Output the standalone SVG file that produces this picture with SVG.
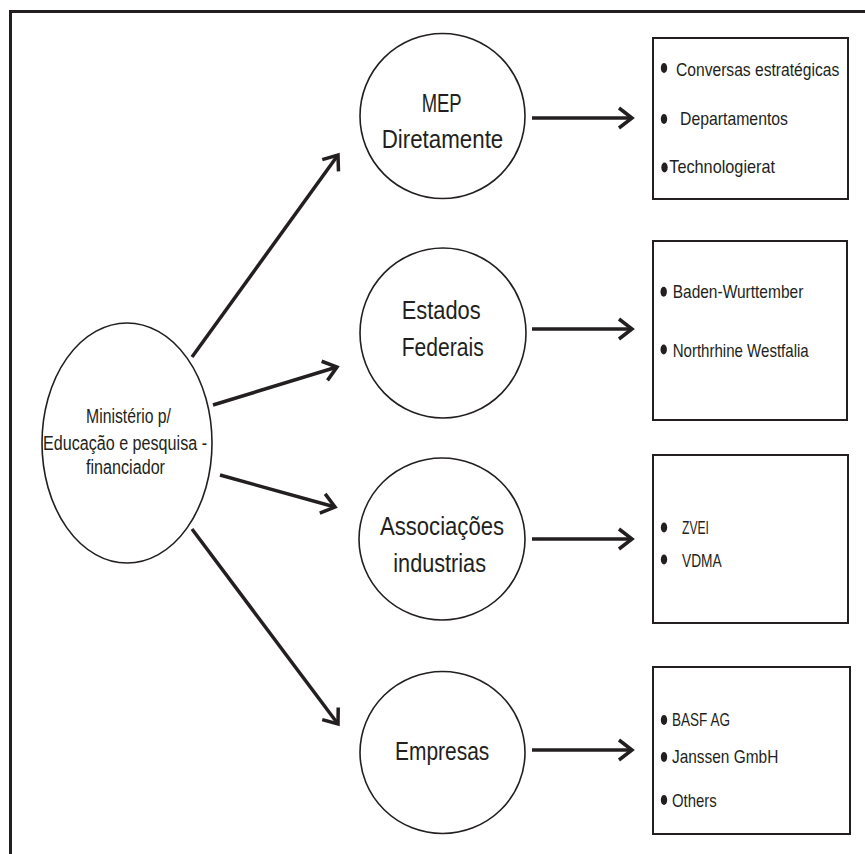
<svg xmlns="http://www.w3.org/2000/svg" width="865" height="854" viewBox="0 0 865 854">
  <style>
    .frame { fill: none; stroke: #231f20; stroke-width: 3; }
    .node { fill: #ffffff; stroke: #231f20; stroke-width: 1.6; }
    .box { fill: #ffffff; stroke: #231f20; stroke-width: 2; }
    .conn { fill: none; stroke: #231f20; stroke-width: 3.5; marker-end: url(#chev); }
    .t { font-family: "Liberation Sans Narrow", "Liberation Sans", Arial, sans-serif; fill: #231f20; }
    .big { font-size: 25px; }
    .mid { font-size: 20px; }
    .sm { font-size: 18.5px; }
    .dot { fill: #231f20; }
  </style>
  <defs>
    <marker id="chev" markerUnits="userSpaceOnUse" orient="auto" markerWidth="30" markerHeight="30" refX="0" refY="0" viewBox="-20 -15 30 30" overflow="visible">
      <path d="M-13,-10 L0,0 L-13,10" fill="none" stroke="#231f20" stroke-width="3.5" stroke-linejoin="miter"/>
    </marker>
  </defs>
  <rect x="0" y="0" width="865" height="854" fill="#ffffff"/>
  <path class="frame" d="M10.5,854 L10.5,11.5 L865,11.5"/>

  <g id="connectors">
    <path class="conn" d="M192,357 L338,155"/>
    <path class="conn" d="M213,405 L337,367"/>
    <path class="conn" d="M220,475 L335,507"/>
    <path class="conn" d="M192,529 L338,724"/>
    <path class="conn" d="M532,118 L632,118"/>
    <path class="conn" d="M532,329 L632,329"/>
    <path class="conn" d="M532,539 L632,539"/>
    <path class="conn" d="M532,750 L632,750"/>
  </g>

  <g id="ministerio">
    <ellipse class="node" cx="127" cy="443" rx="85" ry="120"/>
    <text class="t mid" x="86" y="423" textLength="85" lengthAdjust="spacingAndGlyphs">Ministério p/</text>
    <text class="t mid" x="43" y="450" textLength="164" lengthAdjust="spacingAndGlyphs">Educação e pesquisa -</text>
    <text class="t mid" x="86" y="474" textLength="79" lengthAdjust="spacingAndGlyphs">financiador</text>
  </g>

  <g id="mep">
    <ellipse class="node" cx="442.5" cy="116" rx="82.5" ry="82.5"/>
    <text class="t big" x="421.7" y="111.5" textLength="40" lengthAdjust="spacingAndGlyphs">MEP</text>
    <text class="t big" x="381.7" y="148.3" textLength="121.6" lengthAdjust="spacingAndGlyphs">Diretamente</text>
  </g>

  <g id="estados">
    <ellipse class="node" cx="443" cy="333" rx="83" ry="85"/>
    <text class="t big" x="401.7" y="319.3" textLength="79" lengthAdjust="spacingAndGlyphs">Estados</text>
    <text class="t big" x="401.7" y="356" textLength="82" lengthAdjust="spacingAndGlyphs">Federais</text>
  </g>

  <g id="associacoes">
    <ellipse class="node" cx="442" cy="539" rx="83" ry="81"/>
    <text class="t big" x="380" y="535" textLength="124" lengthAdjust="spacingAndGlyphs">Associações</text>
    <text class="t big" x="393.3" y="571.7" textLength="92.7" lengthAdjust="spacingAndGlyphs">industrias</text>
  </g>

  <g id="empresas">
    <ellipse class="node" cx="442.5" cy="752.5" rx="82.5" ry="81"/>
    <text class="t big" x="395" y="760" textLength="94.3" lengthAdjust="spacingAndGlyphs">Empresas</text>
  </g>

  <g id="box-mep">
    <rect class="box" x="653" y="38" width="195" height="161"/>
    <ellipse class="dot" cx="664" cy="68" rx="3.2" ry="5"/>
    <text class="t sm" transform="translate(676,75.5) scale(0.845,1)" x="0" y="0">Conversas estratégicas</text>
    <ellipse class="dot" cx="664" cy="119" rx="3.2" ry="5"/>
    <text class="t sm" x="680" y="125" textLength="108" lengthAdjust="spacingAndGlyphs">Departamentos</text>
    <ellipse class="dot" cx="664.5" cy="167.5" rx="3.2" ry="5"/>
    <text class="t sm" x="669.3" y="173.3" textLength="105.7" lengthAdjust="spacingAndGlyphs">Technologierat</text>
  </g>

  <g id="box-estados">
    <rect class="box" x="653" y="241" width="194" height="179"/>
    <ellipse class="dot" cx="663.7" cy="291.7" rx="3.2" ry="5"/>
    <text class="t sm" x="672.7" y="298.3" textLength="130.6" lengthAdjust="spacingAndGlyphs">Baden-Wurttember</text>
    <ellipse class="dot" cx="663.7" cy="349.5" rx="3.2" ry="5"/>
    <text class="t sm" x="672.7" y="356.7" textLength="136" lengthAdjust="spacingAndGlyphs">Northrhine Westfalia</text>
  </g>

  <g id="box-associacoes">
    <rect class="box" x="653" y="455" width="195" height="168"/>
    <ellipse class="dot" cx="664" cy="527.5" rx="3.2" ry="5"/>
    <text class="t sm" x="682" y="534.3" textLength="27" lengthAdjust="spacingAndGlyphs">ZVEI</text>
    <ellipse class="dot" cx="664" cy="559.5" rx="3.2" ry="5"/>
    <text class="t sm" x="682" y="566.7" textLength="39.7" lengthAdjust="spacingAndGlyphs">VDMA</text>
  </g>

  <g id="box-empresas">
    <rect class="box" x="653" y="667" width="197" height="167"/>
    <ellipse class="dot" cx="664" cy="720" rx="3.2" ry="5"/>
    <text class="t sm" x="672" y="726" textLength="58" lengthAdjust="spacingAndGlyphs">BASF AG</text>
    <ellipse class="dot" cx="664" cy="757" rx="3.2" ry="5"/>
    <text class="t sm" x="672" y="763.3" textLength="106.3" lengthAdjust="spacingAndGlyphs">Janssen GmbH</text>
    <ellipse class="dot" cx="664" cy="800" rx="3.2" ry="5"/>
    <text class="t sm" x="672" y="806.7" textLength="44.7" lengthAdjust="spacingAndGlyphs">Others</text>
  </g>
</svg>
